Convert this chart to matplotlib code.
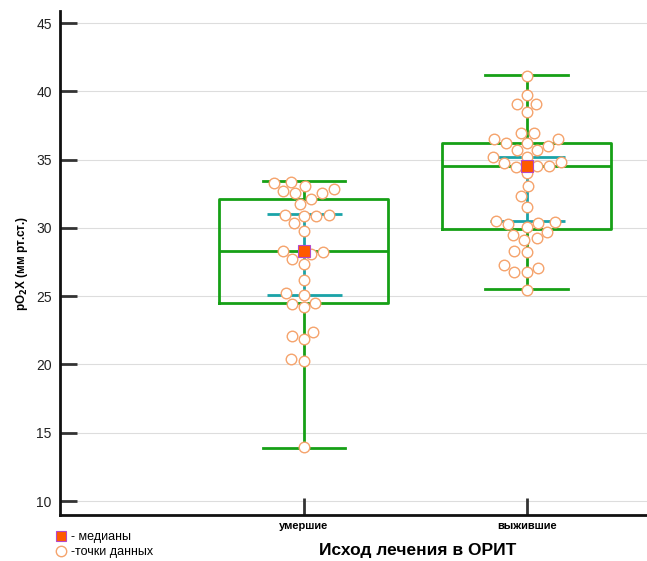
import numpy as np
import matplotlib
matplotlib.use('Agg')
import matplotlib.pyplot as plt
import seaborn as sns
import pandas as pd
from matplotlib.lines import Line2D

plt.rcParams['font.family'] = ['Liberation Sans', 'DejaVu Sans']

# categories and raw points
groups = ['умершие', 'выжившие']
died = [33.31, 33.36, 33.07, 32.53, 32.53, 32.72, 32.82, 32.13, 31.72, 30.89,
        30.89, 30.94, 30.94, 30.33, 29.79, 28.30, 28.06, 28.25, 27.70, 27.35,
        26.18, 25.08, 25.21, 24.42, 24.52, 24.18, 22.40, 22.08, 21.84, 20.27,
        20.37, 13.93]
survived = [41.12, 39.73, 39.07, 39.07, 38.51, 36.97, 36.97, 36.48, 36.53, 36.19,
            36.19, 36.02, 35.70, 35.70, 35.17, 35.17, 34.77, 34.82, 34.53, 34.43,
            34.50, 33.99, 33.07, 32.33, 31.55, 30.28, 30.33, 30.43, 30.48, 29.72,
            30.08, 29.48, 29.11, 29.24, 28.25, 28.33, 27.28, 26.77, 26.75, 27.04,
            25.45]

# box statistics
medians = [28.3, 34.5]
q1 = [24.5, 29.9]
q3 = [32.1, 36.2]
whisk_lo = [13.9, 25.5]
whisk_hi = [33.4, 41.2]
# cyan interval bars
ci_lo = [25.1, 30.5]
ci_hi = [31.0, 35.2]

green = '#16a016'
cyan = '#1aa3a8'
orange = '#f5a36c'

fig = plt.figure(figsize=(6.47, 5.61), dpi=100)
ax = fig.add_axes([60/647, 1 - 515/561, 1 - 60/647, (515 - 11)/561])

# grid
for v in range(10, 46, 5):
    ax.axhline(v, color='#dddddd', lw=0.8, zorder=0)

stats = []
for i in range(2):
    stats.append({'med': medians[i], 'q1': q1[i], 'q3': q3[i],
                  'whislo': whisk_lo[i], 'whishi': whisk_hi[i], 'fliers': []})
ax.bxp(stats, positions=[0, 1], widths=0.76, showfliers=False,
       boxprops=dict(color=green, lw=2.0),
       whiskerprops=dict(color=green, lw=2.0),
       capprops=dict(color=green, lw=2.0),
       medianprops=dict(color=green, lw=2.0),
       capwidths=0.37, manage_ticks=False)

# cyan interval
pos = np.array([0, 1])
mid = (np.array(ci_lo) + np.array(ci_hi)) / 2
ax.errorbar(pos, mid, yerr=[mid - np.array(ci_lo), np.array(ci_hi) - mid],
            fmt='none', ecolor=cyan, elinewidth=2.0, capsize=27, capthick=2.0, zorder=3)

# data points (swarm)
df = pd.DataFrame({'g': [groups[0]] * len(died) + [groups[1]] * len(survived),
                   'v': died + survived})
n_before = len(ax.collections)
sns.swarmplot(data=df, x='g', y='v', order=groups, ax=ax, size=7.6,
              color=orange, zorder=4)
for coll in ax.collections[n_before:]:
    coll.set_facecolor('white')
    coll.set_edgecolor(orange)
    coll.set_linewidth(1.0)

# median squares
ax.plot(pos, medians, 's', ms=8.5, mfc='#ff5a00', mec='#b548c8', mew=0.8,
        ls='none', zorder=5)

ax.set_xlim(-1.094, 1.54)
ax.set_ylim(8.975, 45.88)
ax.set_yticks(range(10, 46, 5))
ax.set_xticks(pos)
ax.set_xticklabels(groups, fontsize=8, fontweight='bold')
ax.set_xlabel('')
ax.set_ylabel(r'pO$_\mathbf{2}$X (мм рт.ст.)', fontsize=8.5, fontweight='bold', labelpad=4)
ax.tick_params(axis='both', direction='in', length=12, width=2, color='#333333')
ax.tick_params(axis='y', labelsize=10, labelcolor='#222222', pad=6)
ax.tick_params(axis='x', pad=4)
for s in ['top', 'right']:
    ax.spines[s].set_visible(False)
for s in ['left', 'bottom']:
    ax.spines[s].set_linewidth(2)
    ax.spines[s].set_color('#111111')

fig.text(418/647, 1 - 551/561, 'Исход лечения в ОРИТ', fontsize=12.5,
         fontweight='bold', ha='center', va='center')

handles = [Line2D([], [], marker='s', ls='none', ms=7, mfc='#ff5a00', mec='#b548c8', mew=0.8),
           Line2D([], [], marker='o', ls='none', ms=7.5, mfc='white', mec=orange, mew=1.0)]
fig.legend(handles, ['- медианы', '-точки данных'], loc='upper left',
           bbox_to_anchor=(50/647, 1 - 525/561), frameon=False, fontsize=9,
           handlelength=0.8, handletextpad=0.4, labelspacing=0.25, borderpad=0)

fig.savefig('out.png', dpi=100)
